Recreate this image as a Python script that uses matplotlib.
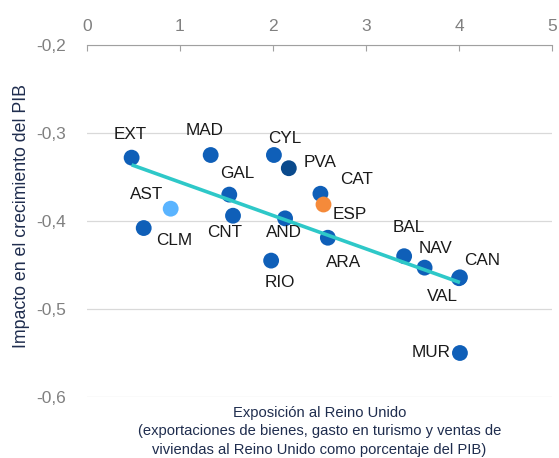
import numpy as np
import matplotlib
matplotlib.use("Agg")
import matplotlib.pyplot as plt

plt.rcParams['font.family'] = ['Liberation Sans', 'DejaVu Sans']

# regiones: exposicion al Reino Unido (% PIB) e impacto en el crecimiento del PIB
regiones = ['EXT', 'MAD', 'CYL', 'PVA', 'GAL', 'CAT', 'AST', 'CNT', 'AND',
            'CLM', 'ARA', 'RIO', 'BAL', 'NAV', 'CAN', 'VAL', 'MUR']
expo = [0.48, 1.33, 2.01, 2.17, 1.53, 2.51, 0.90, 1.57, 2.13,
        0.61, 2.59, 1.98, 3.41, 3.63, 4.01, 4.00, 4.01]
impacto = [-0.328, -0.325, -0.325, -0.340, -0.370, -0.369, -0.386, -0.394, -0.397,
           -0.408, -0.419, -0.445, -0.440, -0.453, -0.464, -0.465, -0.550]
esp_x = [2.54]
esp_y = [-0.381]

xticks = [0, 1, 2, 3, 4, 5]
yticks = [-0.2, -0.3, -0.4, -0.5, -0.6]
yticklabels = ['-0,2', '-0,3', '-0,4', '-0,5', '-0,6']

# colores y posicion de etiquetas (desplazamiento en puntos)
colores = {'PVA': '#0a4a8c', 'AST': '#5ab4ff'}
azul = '#0f5fb8'
offsets = {
    'EXT': (-1, 17, 'center'), 'MAD': (-4, 18, 'center'), 'CYL': (8, 12, 'center'),
    'PVA': (11, 4, 'left'), 'GAL': (6, 15, 'center'), 'CAT': (14, 10, 'left'),
    'AST': (-17, 10, 'center'), 'CNT': (-6, -12, 'center'), 'AND': (-1, -10, 'center'),
    'CLM': (22, -9, 'center'), 'ARA': (11, -18, 'center'), 'RIO': (6, -16, 'center'),
    'BAL': (3, 21, 'center'), 'NAV': (8, 14, 'center'), 'CAN': (16, 12, 'center'),
    'VAL': (-12, -13, 'center'), 'MUR': (-7, 0, 'right'),
}

fig = plt.figure(figsize=(5.59, 4.58), dpi=100)
ax = fig.add_axes([0.1556, 0.1332, 0.8319, 0.7685])

cols = [colores.get(r, azul) for r in regiones]
ax.scatter(expo, impacto, s=130, c=cols, zorder=3, linewidths=0)
ax.scatter(esp_x, esp_y, s=130, c='#f58a3a', zorder=3, linewidths=0)

for r, x, y in zip(regiones, expo, impacto):
    dx, dy, ha = offsets[r]
    ax.annotate(r, (x, y), xytext=(dx, dy), textcoords='offset points',
                ha=ha, va='center', fontsize=12.3, color='#1a1a1a', zorder=5)
ax.annotate('ESP', (esp_x[0], esp_y[0]), xytext=(7, -7), textcoords='offset points',
            ha='left', va='center', fontsize=12.3, color='#1a1a1a', zorder=5)

# linea de tendencia
p = np.polyfit(expo, impacto, 1)
xl = np.array([min(expo), max(expo)])
ax.plot(xl, np.polyval(p, xl), color='#2ec8c8', lw=2.6, zorder=4, solid_capstyle='butt')

ax.set_xlim(0, 5)
ax.set_ylim(-0.6, -0.2)
ax.set_xticks(xticks)
ax.set_yticks(yticks)
ax.set_yticklabels(yticklabels)
ax.xaxis.tick_top()
ax.tick_params(axis='x', direction='in', length=4, color='#a0a0a0', labelcolor='#808080',
               labelsize=12.5, pad=8)
ax.tick_params(axis='y', length=0, labelcolor='#808080', labelsize=12.5, pad=15)
ax.grid(axis='y', color='#d9d9d9', lw=0.9)
ax.set_axisbelow(True)
for s in ['left', 'right', 'bottom']:
    ax.spines[s].set_visible(False)
ax.spines['top'].set_color('#a0a0a0')

ax.set_ylabel('Impacto en el crecimiento del PIB', fontsize=12.8, color='#1f2d4e')
ax.yaxis.set_label_coords(-0.123, 0.515)
ax.text(0.5, -0.025, 'Exposición al Reino Unido\n(exportaciones de bienes, gasto en turismo y ventas de\n'
        'viviendas al Reino Unido como porcentaje del PIB)', transform=ax.transAxes,
        ha='center', va='top', fontsize=10.6, color='#1f2d4e', linespacing=1.4)

fig.savefig('out.png', dpi=100)
